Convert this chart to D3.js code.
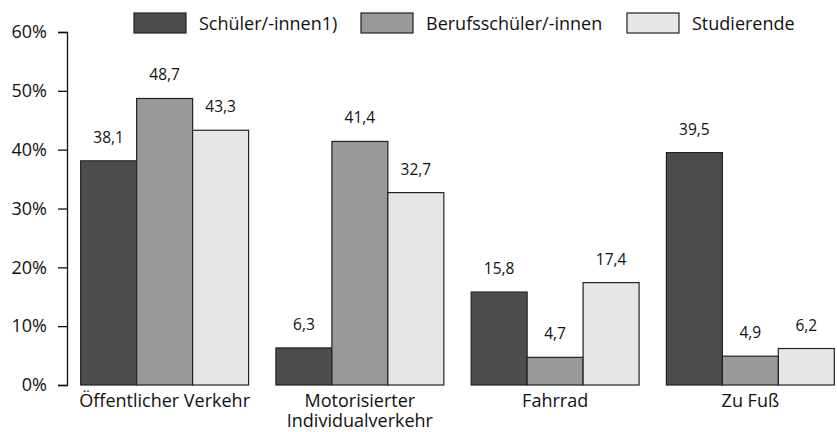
<!DOCTYPE html>
<html>
<head>
<meta charset="utf-8">
<script src="https://cdn.jsdelivr.net/npm/d3@7"></script>
<style>
body { margin: 0; background: #fff; }
text { font-family: "Open Sans", "DejaVu Sans", sans-serif; fill: #111; }
</style>
</head>
<body>
<script>
var categories = [["Öffentlicher Verkehr"], ["Motorisierter", "Individualverkehr"], ["Fahrrad"], ["Zu Fuß"]];
var seriesNames = ["Schüler/-innen1)", "Berufsschüler/-innen", "Studierende"];
var schueler = [38.1, 6.3, 15.8, 39.5];
var berufsschueler = [48.7, 41.4, 4.7, 4.9];
var studierende = [43.3, 32.7, 17.4, 6.2];
var yTicks = [0, 10, 20, 30, 40, 50, 60];
var colors = ["#4d4d4d", "#999999", "#e6e6e6"];

var series = [schueler, berufsschueler, studierende];

var svg = d3.select("body").append("svg").attr("width", 837).attr("height", 432);

var y = d3.scaleLinear().domain([0, 60]).range([385, 32]);
var x0 = d3.scaleBand().domain(d3.range(categories.length)).range([67, 848]).paddingInner(0.14).paddingOuter(0.07);
var x1 = d3.scaleBand().domain(d3.range(series.length)).range([0, x0.bandwidth()]);

// y axis
var yAxis = svg.append("g").attr("transform", "translate(67,0)")
		.call(d3.axisLeft(y).tickValues(yTicks).tickSize(9).tickFormat(function(d){return d + "%";}));
yAxis.select(".domain").attr("stroke", "#111").attr("stroke-width", 1.3);
yAxis.selectAll(".tick line").attr("stroke", "#111").attr("stroke-width", 1.3);
yAxis.selectAll(".tick text").attr("font-size", 18).attr("x", -20).attr("fill", "#111")
		.style("font-family", "'Open Sans', 'DejaVu Sans', sans-serif");

// bars
var groups = svg.selectAll("g.group")
		.data(categories)
		.enter().append("g")
		.attr("class", "group")
		.attr("transform", function(d, i){return "translate(" + x0(i) + ",0)";});

groups.selectAll("rect")
		.data(function(d, i){return series.map(function(s, j){return {s: j, v: s[i]};});})
		.enter().append("rect")
		.attr("x", function(d){return x1(d.s);})
		.attr("y", function(d){return y(d.v);})
		.attr("width", x1.bandwidth())
		.attr("height", function(d){return y(0) - y(d.v);})
		.attr("fill", function(d){return colors[d.s];})
		.attr("stroke", "#222")
		.attr("stroke-width", 1.2);

groups.selectAll("text.val")
		.data(function(d, i){return series.map(function(s, j){return {s: j, v: s[i]};});})
		.enter().append("text")
		.attr("class", "val")
		.attr("x", function(d){return x1(d.s) + x1.bandwidth() / 2;})
		.attr("y", function(d){return y(d.v) - 18;})
		.attr("text-anchor", "middle")
		.attr("font-size", 15.5)
		.text(function(d){return String(d.v).replace(".", ",");});

// category labels
groups.append("text")
		.attr("text-anchor", "middle")
		.attr("font-size", 18)
		.selectAll("tspan")
		.data(function(d){return d;})
		.enter().append("tspan")
		.attr("x", x0.bandwidth() / 2)
		.attr("y", function(d, i){return 407 + i * 20;})
		.text(function(d){return d;});

// legend
var legendX = [134, 361, 627];
var legend = svg.selectAll("g.legend")
		.data(seriesNames)
		.enter().append("g")
		.attr("class", "legend")
		.attr("transform", function(d, i){return "translate(" + legendX[i] + ",13)";});
legend.append("rect")
		.attr("width", 52).attr("height", 20)
		.attr("fill", function(d, i){return colors[i];})
		.attr("stroke", "#222").attr("stroke-width", 1.2);
legend.append("text")
		.attr("x", 65).attr("y", 17)
		.attr("font-size", 18)
		.text(function(d){return d;});
</script>
</body>
</html>
